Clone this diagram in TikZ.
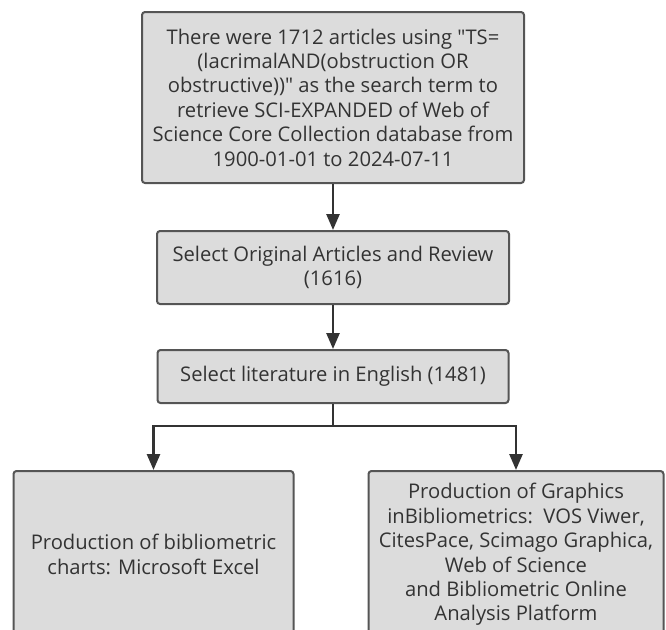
\documentclass[tikz,border=0pt]{standalone}
\usepackage{fontspec}
\setmainfont{Open Sans}
\usetikzlibrary{positioning,arrows.meta}

\definecolor{boxfill}{RGB}{220,220,220}
\definecolor{boxline}{RGB}{85,85,85}
\definecolor{arrline}{RGB}{51,51,51}

\begin{document}
\begin{tikzpicture}[>={Triangle[width=6.5pt,length=8pt]},
    stepbox/.style={
        rectangle,
        rounded corners=1.5pt,
        draw=boxline,
        line width=1pt,
        fill=boxfill,
        inner sep=0pt,
        text centered,
        align=center,
        text=black!80,
        font=\fontsize{10.1}{12.2}\selectfont
        },
    flow/.style={
        ->,
        draw=arrline,
        line width=1.3pt}]

    \useasboundingbox (0,0) rectangle (333pt,-314.5pt);

    \node (search) [stepbox, minimum width=191pt, minimum height=85.5pt] at (166.5pt,-48.75pt)
        {There were 1712 articles using \textquotedbl TS=\\
         (lacrimalAND(obstruction OR\\
         obstructive))\textquotedbl{} as the search term to\\
         retrieve SCI-EXPANDED of Web of\\
         Science Core Collection database from\\
         1900-01-01 to 2024-07-11};
    \node (select) [stepbox, minimum width=176pt, minimum height=36.5pt, below=23pt of search]
        {Select Original Articles and Review\\(1616)};
    \node (english) [stepbox, minimum width=175.5pt, minimum height=26.5pt, below=22pt of select]
        {Select literature in English (1481)};

    \node (charts) [stepbox, minimum width=140pt, minimum height=83.5pt,
        below left=33pt and 19.25pt of english.south]
        {Production of bibliometric\\charts: Microsoft Excel};
    \node (graphics) [stepbox, minimum width=147.5pt, minimum height=83.5pt,
        below right=33pt and 17.25pt of english.south]
        {Production of Graphics\\
         inBibliometrics:\ \ VOS Viwer,\\
         CitesPace, Scimago Graphica,\\
         Web of Science\\
         and Bibliometric Online\\
         Analysis Platform};

    \path (search) edge[flow] (select);
    \path (select) edge[flow] (english);

    \coordinate (split) at ([yshift=-11pt]english.south);
    \draw[flow] (english.south) -- (split) -| (charts.north);
    \draw[flow] (split) -| (graphics.north);
\end{tikzpicture}
\end{document}
